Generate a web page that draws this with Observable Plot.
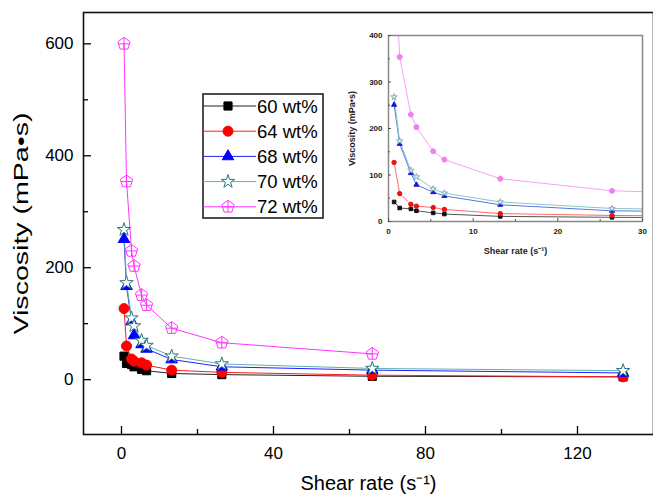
<!DOCTYPE html>
<html><head><meta charset="utf-8">
<script src="https://cdn.jsdelivr.net/npm/d3@7"></script>
<script src="https://cdn.jsdelivr.net/npm/@observablehq/plot@0.6"></script>
<style>
body{margin:0;background:#fff;}
#wrap{position:relative;width:653px;height:494px;overflow:hidden;font-family:"Liberation Sans",Arial,sans-serif;background:#fff;}
#inset{position:absolute;left:340px;top:20px;}
#legend{position:absolute;left:202px;top:93px;}
</style></head><body><div id="wrap"><div id="main"></div><div id="inset"></div><div id="legend"></div></div>
<script>
// ---- data ----
const shearRate = [0.66, 1.32, 2.64, 3.3, 5.28, 6.6, 13.2, 26.4, 66, 132];
const v60 = [42, 29, 27, 23, 18.5, 16, 11, 9, 6, 5];
const v64 = [127, 60, 37, 33, 30, 26, 17, 13, 8, 5];
const v68 = [251, 167, 104, 79, 63, 55, 36, 23, 17, 12];
const v70 = [268, 173, 110, 96, 70, 61, 42, 28, 20, 16];
const v72 = [600, 354, 230, 203, 151, 133, 92, 66, 46];
const seriesNames = ["60 wt%", "64 wt%", "68 wt%", "70 wt%", "72 wt%"];
const seriesValues = [v60, v64, v68, v70, v72];
const xTicks = [0, 40, 80, 120];
const xMinorTicks = [20, 60, 100];
const yTicks = [0, 200, 400, 600];
const yMinorTicks = [100, 300, 500];
const insetXTicks = [0, 10, 20, 30];
const insetXMinor = [5, 15, 25];
const insetYTicks = [0, 100, 200, 300, 400];
const insetYMinor = [50, 150, 250, 350];
const xLabel = "Shear rate (s\u207B\u00B9)";
const yLabel = "Viscosity (mPa\u2022s)";

const rows = seriesNames.flatMap((name, i) =>
  seriesValues[i].map((v, j) => ({series: name, rate: shearRate[j], viscosity: v})));

// ---- styles ----
const pentagonCross = {
  draw(ctx, size) {
    const r = Math.sqrt(size / Math.PI);
    for (let k = 0; k < 5; k++) {
      const a = -Math.PI / 2 + k * 2 * Math.PI / 5;
      const x = r * Math.cos(a), y = r * Math.sin(a);
      if (k) ctx.lineTo(x, y); else ctx.moveTo(x, y);
    }
    ctx.closePath();
    ctx.moveTo(0, -r); ctx.lineTo(0, 0.809 * r);
    ctx.moveTo(-0.851 * r, 0); ctx.lineTo(0.851 * r, 0);
  }
};
const mainStyle = [
  {line: "#222", stroke: "#000", fill: "#000", symbol: "square", r: 4.6},
  {line: "#ff1a1a", stroke: "#ff0000", fill: "#ff0000", symbol: "circle", r: 5},
  {line: "#2020ff", stroke: "#0000ff", fill: "#0000ff", symbol: "triangle", r: 4.3},
  {line: "#5fb0b0", stroke: "#2a7878", fill: "white", symbol: "star", r: 4.2},
  {line: "#ff33ff", stroke: "#ff33ff", fill: "none", symbol: pentagonCross, r: 6.5}
];
const insetStyle = [
  {line: "#555", stroke: "#111", fill: "#111", symbol: "square", r: 2},
  {line: "#ff6a6a", stroke: "#ee1111", fill: "#ee1111", symbol: "circle", r: 2.2},
  {line: "#5577dd", stroke: "#1a1acc", fill: "#1a1acc", symbol: "triangle", r: 1.9},
  {line: "#8cc8c8", stroke: "#7fb0c0", fill: "#e8f4f8", symbol: "star", r: 2},
  {line: "#f7a0f7", stroke: "#f080f0", fill: "#f080f0", symbol: pentagonCross, r: 2.8}
];

function seriesMarks(style, clip) {
  const marks = [];
  seriesNames.forEach((name, i) => {
    marks.push(Plot.line(rows, {filter: d => d.series === name, x: "rate", y: "viscosity",
      stroke: style[i].line, strokeWidth: 1, clip}));
  });
  seriesNames.forEach((name, i) => {
    marks.push(Plot.dot(rows, {filter: d => d.series === name, x: "rate", y: "viscosity",
      symbol: style[i].symbol, r: style[i].r, stroke: style[i].stroke, fill: style[i].fill,
      strokeWidth: 1, clip}));
  });
  return marks;
}

// ---- main chart ----
const main = Plot.plot({
  width: 653, height: 494,
  marginLeft: 83, marginRight: 0, marginTop: 12, marginBottom: 60,
  style: {fontFamily: "'Liberation Sans', Arial, sans-serif", background: "white", color: "#000"},
  x: {domain: [-10, 140], label: null},
  y: {domain: [-98, 656], label: null},
  marks: [
    ...seriesMarks(mainStyle, false),
    Plot.frame({stroke: "#111", strokeWidth: 1.6}),
    Plot.axisX(xTicks, {tickSize: -8, tickPadding: 20, fontSize: 17, label: null, strokeWidth: 1.3}),
    Plot.axisX(xMinorTicks, {tickSize: -5, tickFormat: () => "", label: null, strokeWidth: 1.3}),
    Plot.axisX([], {tickSize: 0, label: xLabel, labelAnchor: "center", labelArrow: "none", labelOffset: 55, fontSize: 20}),
    Plot.axisY(yTicks, {tickSize: -8, tickPadding: 18, fontSize: 17, label: null, strokeWidth: 1.3}),
    Plot.axisY(yMinorTicks, {tickSize: -5, tickFormat: () => "", label: null, strokeWidth: 1.3}),
    Plot.axisY([], {tickSize: 0, label: yLabel, labelAnchor: "center", labelArrow: "none", labelOffset: 70, fontSize: 20})
  ]
});
document.getElementById("main").append(main);
// stretch the y-axis title along its length, as in the reference
d3.select(main).selectAll('g[aria-label="y-axis label"] text')
  .attr("textLength", 222).attr("lengthAdjust", "spacingAndGlyphs");

// ---- inset chart ----
const inset = Plot.plot({
  width: 310, height: 250,
  marginLeft: 48, marginRight: 8, marginTop: 15, marginBottom: 49,
  style: {fontFamily: "'Liberation Sans', Arial, sans-serif", background: "white", color: "#222", fontWeight: "bold"},
  x: {domain: [0, 30], label: null},
  y: {domain: [0, 400], label: null},
  marks: [
    ...seriesMarks(insetStyle, true),
    Plot.frame({stroke: "#888", strokeWidth: 1.5}),
    Plot.axisX(insetXTicks, {tickSize: -3, tickPadding: 10, fontSize: 8, label: null, stroke: "#555"}),
    Plot.axisX(insetXMinor, {tickSize: -2, tickFormat: () => "", label: null, stroke: "#555"}),
    Plot.axisX([], {tickSize: 0, label: xLabel, labelAnchor: "center", labelArrow: "none", labelOffset: 32, fontSize: 9}),
    Plot.axisY(insetYTicks, {tickSize: -3, tickPadding: 9, fontSize: 8, label: null, stroke: "#555"}),
    Plot.axisY(insetYMinor, {tickSize: -2, tickFormat: () => "", label: null, stroke: "#555"}),
    Plot.axisY([], {tickSize: 0, label: yLabel, labelAnchor: "center", labelArrow: "none", labelOffset: 40, fontSize: 9})
  ]
});
document.getElementById("inset").append(inset);

// ---- legend ----
const leg = d3.create("svg").attr("width", 124).attr("height", 128)
  .style("font-family", "'Liberation Sans', Arial, sans-serif");
leg.append("rect").attr("x", 1).attr("y", 1).attr("width", 120).attr("height", 124)
  .attr("fill", "white").attr("stroke", "#222").attr("stroke-width", 1.6);
const typeOf = s => typeof s === "string"
  ? {square: d3.symbolSquare, circle: d3.symbolCircle, triangle: d3.symbolTriangle, star: d3.symbolStar}[s] : s;
seriesNames.forEach((name, i) => {
  const cy = 13 + i * 25.2;
  const st = mainStyle[i];
  leg.append("line").attr("x1", 1).attr("x2", 54).attr("y1", cy).attr("y2", cy)
    .attr("stroke", st.line).attr("stroke-width", 1);
  leg.append("path").attr("d", d3.symbol(typeOf(st.symbol), st.r * st.r * Math.PI)())
    .attr("transform", `translate(26,${cy})`)
    .attr("fill", st.fill).attr("stroke", st.stroke).attr("stroke-width", 1);
  leg.append("text").attr("x", 55).attr("y", cy).attr("dy", "0.36em")
    .attr("font-size", 18.5).attr("fill", "#000").text(name);
});
document.getElementById("legend").append(leg.node());
</script></body></html>
